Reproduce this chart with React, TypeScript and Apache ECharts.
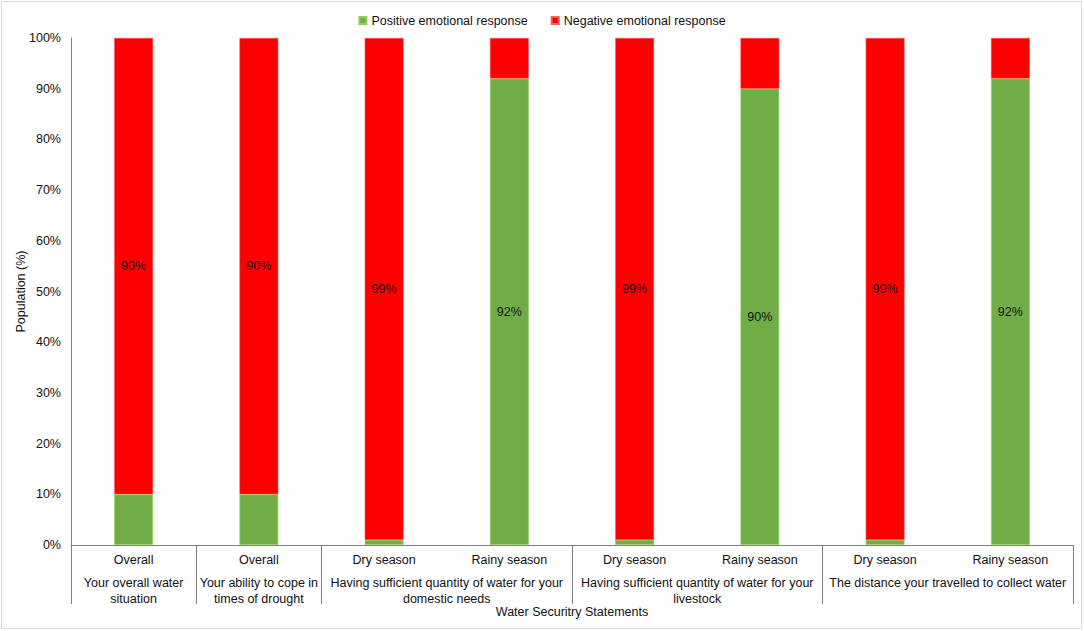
import React, { useEffect, useRef } from "react";
import * as echarts from "echarts";

const categories = [
  "Overall",
  "Overall",
  "Dry season",
  "Rainy season",
  "Dry season",
  "Rainy season",
  "Dry season",
  "Rainy season",
];
const groupLabels = [
  "Your overall water\nsituation",
  "Your ability to cope in\ntimes of drought",
  "Having sufficient quantity of water for your\ndomestic needs",
  "Having sufficient quantity of water for your\nlivestock",
  "The distance your travelled to collect water",
];
const groupCenters = [0.5, 1.5, 3, 5, 7];
const groupStarts = [0, 1, 2, 4, 6];
const positive = [10, 10, 1, 92, 1, 90, 1, 92];
const negative = [90, 90, 99, 8, 99, 10, 99, 8];
const seriesNames = ["Positive emotional response", "Negative emotional response"];

const FONT = "'Liberation Sans', Arial, sans-serif";
const TXT = "#111";
const AXIS = "#7f7f7f";
const FS = 12.5;

export default function App() {
  const ref = useRef<HTMLDivElement>(null);
  useEffect(() => {
    document.body.style.margin = "0";
    const chart = echarts.init(ref.current!, null, { renderer: "svg" });
    const labelCfg = {
      show: true,
      position: "inside",
      color: TXT,
      fontSize: FS,
      fontFamily: FONT,
      formatter: (p: any) => (p.value > 50 ? p.value + "%" : ""),
    };
    chart.setOption({
      animation: false,
      textStyle: { fontFamily: FONT, color: TXT },
      graphic: [
        {
          type: "rect",
          shape: { x: 1.5, y: 1.5, width: 1080, height: 627 },
          style: { fill: "none", stroke: "#d9d9d9", lineWidth: 1 },
          silent: true,
        },
      ],
      legend: {
        top: 9,
        left: "center",
        icon: "rect",
        itemWidth: 7,
        itemHeight: 7,
        itemGap: 23,
        textStyle: { fontSize: FS, color: TXT, fontFamily: FONT },
        data: seriesNames,
      },
      grid: {
        left: 71,
        right: 11,
        top: 38,
        bottom: 86,
        containLabel: false,
        outerBoundsMode: "none",
      },
      xAxis: [
        {
          type: "category",
          data: categories,
          position: "bottom",
          axisLine: { show: true, lineStyle: { color: AXIS, width: 1 } },
          axisTick: {
            show: true,
            length: 59,
            lineStyle: { color: AXIS },
            interval: (i: number) => groupStarts.indexOf(i) >= 0,
          },
          axisLabel: { margin: 8, fontSize: FS, color: TXT, fontFamily: FONT, interval: 0 },
          name: "Water Securitry Statements",
          nameLocation: "middle",
          nameGap: 60,
          nameMoveOverlap: false,
          nameTextStyle: { fontSize: FS, color: TXT, fontFamily: FONT },
        },
        {
          type: "value",
          min: 0,
          max: 8,
          interval: 0.5,
          position: "bottom",
          axisLine: { show: false },
          axisTick: { show: false },
          splitLine: { show: false },
          axisLabel: {
            margin: 30,
            fontSize: FS,
            lineHeight: 16,
            color: TXT,
            fontFamily: FONT,
            formatter: (v: number) => {
              const i = groupCenters.indexOf(v);
              return i >= 0 ? groupLabels[i] : "";
            },
          },
        },
      ],
      yAxis: {
        type: "value",
        min: 0,
        max: 100,
        interval: 10,
        axisLine: { show: true, lineStyle: { color: AXIS, width: 1 } },
        axisTick: { show: false },
        splitLine: { show: false },
        axisLabel: { formatter: "{value}%", fontSize: FS, color: TXT, fontFamily: FONT, margin: 10 },
        name: "Population (%)",
        nameLocation: "middle",
        nameGap: 44,
        nameMoveOverlap: false,
        nameTextStyle: { fontSize: FS, color: TXT, fontFamily: FONT },
      },
      series: [
        {
          name: seriesNames[0],
          type: "bar",
          stack: "total",
          xAxisIndex: 0,
          barWidth: "31%",
          data: positive,
          itemStyle: { color: "#70AD47", borderColor: "#8fce63", borderWidth: 0.8 },
          label: labelCfg,
        },
        {
          name: seriesNames[1],
          type: "bar",
          stack: "total",
          xAxisIndex: 0,
          barWidth: "31%",
          data: negative,
          itemStyle: { color: "#FF0000", borderColor: "#ff5a5a", borderWidth: 0.5 },
          label: labelCfg,
        },
      ],
    });
    return () => chart.dispose();
  }, []);
  return <div ref={ref} style={{ width: 1084, height: 631 }} />;
}
